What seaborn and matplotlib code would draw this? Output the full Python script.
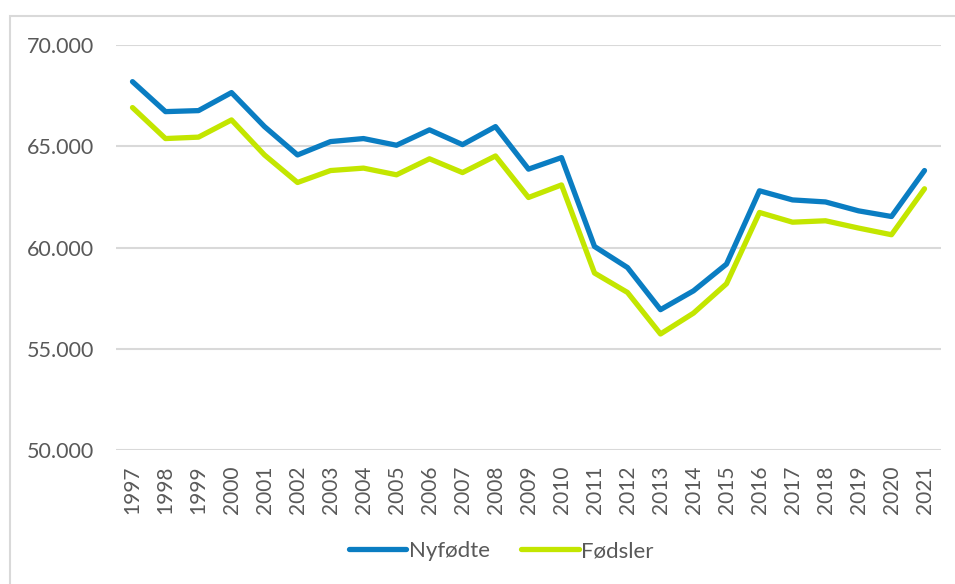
import pandas as pd
import numpy as np
import matplotlib.pyplot as plt
import seaborn as sns
from matplotlib.patches import Rectangle
from matplotlib.ticker import FuncFormatter

years = [str(y) for y in range(1997, 2022)]
nyfodte = [68190, 66710, 66760, 67650, 65970, 64570, 65230, 65380, 65050, 65810,
           65080, 65970, 63870, 64440, 60050, 59010, 56930, 57860, 59180, 62800,
           62350, 62250, 61810, 61530, 63800]
fodsler = [66910, 65380, 65450, 66300, 64570, 63210, 63800, 63920, 63590, 64380,
           63700, 64520, 62470, 63090, 58740, 57780, 55730, 56760, 58210, 61730,
           61250, 61320, 60960, 60630, 62900]

df = pd.DataFrame({'år': years, 'Nyfødte': nyfodte, 'Fødsler': fodsler})
df = df.melt(id_vars='år', var_name='serie', value_name='antall')

sns.set_style("white")
plt.rcParams['font.family'] = ['Lato', 'DejaVu Sans']
grey = '#595959'

fig = plt.figure(figsize=(9.55, 5.84), dpi=100)
ax = fig.add_axes([116 / 955, 1 - 450 / 584, (941 - 116) / 955, (450 - 45) / 584])

sns.lineplot(data=df, x='år', y='antall', hue='serie', ax=ax,
             palette={'Nyfødte': '#0A7DC2', 'Fødsler': '#C3E600'},
             linewidth=3.8, sort=False)

ax.set_ylim(50000, 70000)
ax.set_xlim(-0.5, len(years) - 0.5)
ax.set_yticks(np.arange(50000, 70001, 5000))
ax.yaxis.set_major_formatter(FuncFormatter(lambda v, p: f"{int(v):,}".replace(',', '.')))
ax.grid(axis='y', color='#D9D9D9', linewidth=1.5)
ax.set_axisbelow(True)
for s in ax.spines.values():
    s.set_visible(False)
ax.set_xlabel('')
ax.set_ylabel('')
ax.tick_params(axis='y', labelsize=15.5, colors=grey, length=0, pad=16)
ax.tick_params(axis='x', labelsize=15, colors=grey, length=0, pad=11, labelrotation=90)

handles, labels = ax.get_legend_handles_labels()
ax.legend(handles, labels, loc='center', bbox_to_anchor=(501 / 955, 1 - 551 / 584),
          bbox_transform=fig.transFigure, ncol=2, frameon=False, fontsize=16,
          handlelength=2.6, columnspacing=1.4, handletextpad=0.1,
          labelcolor=grey)

# chart border (cut off at right and bottom)
fig.patches.append(Rectangle((10 / 955, -0.1), 1.2, 1 - 16 / 584 + 0.1,
                             transform=fig.transFigure, fill=False,
                             edgecolor='#D9D9D9', linewidth=1.5))

fig.savefig('out.png', dpi=100)
